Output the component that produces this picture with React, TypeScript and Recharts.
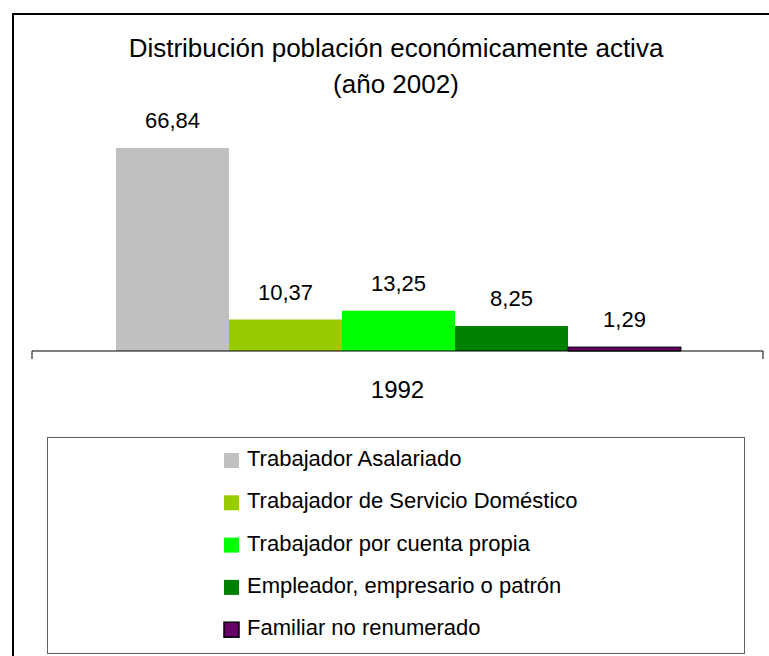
import { BarChart, Bar, XAxis, YAxis, LabelList } from "recharts";

const categories = ["1992"];
const seriesNames = [
  "Trabajador Asalariado",
  "Trabajador de Servicio Doméstico",
  "Trabajador por cuenta propia",
  "Empleador, empresario o patrón",
  "Familiar no renumerado",
];
const seriesValues = [66.84, 10.37, 13.25, 8.25, 1.29];
const seriesColors = ["#C0C0C0", "#99CC00", "#00FF00", "#008000", "#660066"];
const seriesStrokes = ["none", "none", "none", "none", "#000000"];
const titleLines = ["Distribución población económicamente activa", "(año 2002)"];

const FONT = '"Liberation Sans", Arial, sans-serif';

const data = categories.map((cat) => {
  const row: Record<string, string | number> = { cat };
  seriesValues.forEach((v, i) => {
    row[`s${i}`] = v;
  });
  return row;
});

const fmt = (v: unknown) => Number(v).toFixed(2).replace(".", ",");

function CategoryTick(props: any) {
  const { x, y, payload } = props;
  const half = payload?.offset ?? 0;
  return (
    <g>
      <line x1={x - half} x2={x - half} y1={y} y2={y + 8} stroke="#000" />
      <line x1={x + half} x2={x + half} y1={y} y2={y + 8} stroke="#000" />
      <text x={x} y={y + 47} textAnchor="middle" fontSize={24} fill="#000" fontFamily={FONT}>
        {payload.value}
      </text>
    </g>
  );
}

export default function App() {
  return (
    <div
      style={{
        position: "absolute",
        left: 0,
        top: 0,
        width: 769,
        height: 656,
        overflow: "hidden",
        background: "#fff",
        fontFamily: FONT,
      }}
    >
      <div
        style={{
          position: "absolute",
          left: 12,
          top: 13,
          width: 800,
          height: 700,
          borderLeft: "2px solid #000",
          borderTop: "2px solid #000",
        }}
      />
      <svg width={769} height={656} style={{ position: "absolute", left: 0, top: 0 }}>
        {titleLines.map((t, i) => (
          <text
            key={t}
            x={396}
            y={57 + i * 36}
            textAnchor="middle"
            fontSize={26}
            fontFamily={FONT}
            fill="#000"
          >
            {t}
          </text>
        ))}
        <rect x={47.5} y={437.5} width={697} height={216} fill="#fff" stroke="#606060" />
        {seriesNames.map((name, i) => (
          <g key={name}>
            <rect
              x={224}
              y={453 + i * 42.3}
              width={15}
              height={15}
              fill={seriesColors[i]}
              stroke={seriesStrokes[i] === "none" ? "none" : seriesStrokes[i]}
              strokeWidth={1.5}
            />
            <text x={247} y={466 + i * 42.3} fontSize={22} fontFamily={FONT} fill="#000">
              {name}
            </text>
          </g>
        ))}
      </svg>
      <div style={{ position: "absolute", left: 0, top: 0 }}>
        <BarChart
          width={769}
          height={656}
          data={data}
          margin={{ top: 108, right: 6, bottom: 255, left: 32 }}
          barCategoryGap={84}
          barGap={0}
        >
          <XAxis
            dataKey="cat"
            height={50}
            axisLine={{ stroke: "#000", strokeWidth: 1 }}
            tickLine={false}
            tickSize={0}
            tickMargin={0}
            tick={<CategoryTick />}
          />
          <YAxis hide domain={[0, 80]} />
          {seriesNames.map((name, i) => (
            <Bar
              key={name}
              dataKey={`s${i}`}
              name={name}
              fill={seriesColors[i]}
              stroke={seriesStrokes[i]}
              strokeWidth={1}
              isAnimationActive={false}
            >
              <LabelList
                dataKey={`s${i}`}
                position="top"
                offset={20}
                formatter={fmt}
                fill="#000"
                fontSize={22}
                fontFamily={FONT}
              />
            </Bar>
          ))}
        </BarChart>
      </div>
    </div>
  );
}
